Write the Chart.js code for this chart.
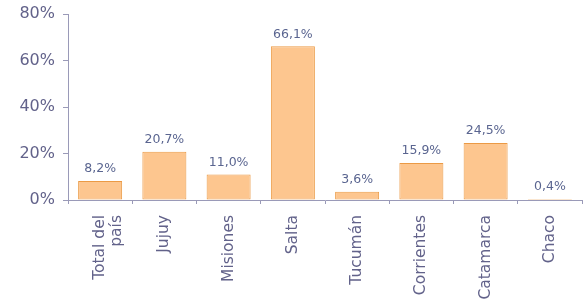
<!DOCTYPE html>
<html><head><meta charset="utf-8">
<script src="https://cdn.jsdelivr.net/npm/chart.js@4"></script>
<style>html,body{margin:0;padding:0;background:#fff}#w{width:585px;height:304px}</style>
</head><body><div id="w"><canvas id="c"></canvas></div>
<script>
const categories = [["Total del","país"],"Jujuy","Misiones","Salta","Tucumán","Corrientes","Catamarca","Chaco"];
const values = [8.2, 20.7, 11.0, 66.1, 3.6, 15.9, 24.5, 0.4];
const yTicks = [0, 20, 40, 60, 80];

const textColor = '#62628a';
const axisColor = '#9a9ab8';
const fam = '"DejaVu Sans", Verdana, sans-serif';

const labelPlugin = {
  id: 'vlabels',
  afterDatasetsDraw(chart) {
    const ctx = chart.ctx;
    const meta = chart.getDatasetMeta(0);
    ctx.save();
    ctx.font = '12.5px ' + fam;
    ctx.fillStyle = '#5a6590';
    ctx.textAlign = 'center';
    ctx.textBaseline = 'middle';
    meta.data.forEach((bar, i) => {
      const v = values[i].toFixed(1).replace('.', ',') + '%';
      ctx.fillText(v, bar.x, bar.y - 12);
    });
    ctx.restore();
  }
};

new Chart(document.getElementById('c'), {
  type: 'bar',
  data: {
    labels: categories,
    datasets: [{
      data: values,
      backgroundColor: '#fdc68f',
      borderColor: '#eb9a45',
      borderWidth: 1,
      borderSkipped: false,
      barPercentage: 0.685,
      categoryPercentage: 1
    }]
  },
  options: {
    responsive: true,
    maintainAspectRatio: false,
    animation: false,
    layout: { padding: { top: 0, right: 3, left: 0, bottom: 0 } },
    plugins: { legend: { display: false }, tooltip: { enabled: false } },
    scales: {
      x: {
        offset: true,
        grid: { offset: true, drawOnChartArea: false, tickLength: 4, color: axisColor },
        border: { color: axisColor, width: 1 },
        ticks: {
          color: textColor, minRotation: 90, maxRotation: 90, autoSkip: false, padding: 11,
          font: { family: fam, size: 15.5, lineHeight: 1.1 }
        },
        afterFit(s) { s.height = 104; }
      },
      y: {
        min: 0, max: 80,
        afterBuildTicks(s) { s.ticks = yTicks.map(v => ({ value: v })); },
        grid: { drawOnChartArea: false, tickLength: 5, color: axisColor },
        border: { color: axisColor, width: 1 },
        ticks: {
          color: textColor, padding: 8,
          font: { family: fam, size: 16, lineHeight: 0.75 },
          callback: v => v + '%'
        },
        afterFit(s) { s.width = 68; }
      }
    }
  },
  plugins: [labelPlugin]
});
</script>
</body></html>
